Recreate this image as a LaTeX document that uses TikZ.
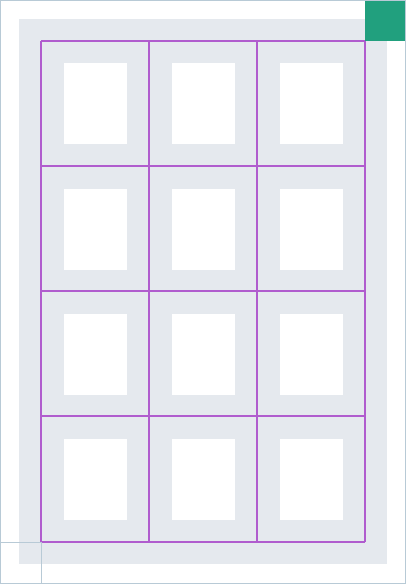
\documentclass[tikz,border=0pt]{standalone}
\usetikzlibrary{calc}
\definecolor{pagegray}{RGB}{229,233,238}
\definecolor{gridpurple}{RGB}{176,92,206}
\definecolor{tealgreen}{RGB}{33,160,126}
\definecolor{edgeblue}{RGB}{184,202,214}
\begin{document}
\begin{tikzpicture}[x=1pt,y=-1pt,
  sheet/.style={fill=pagegray,draw=none},
  slot/.style={fill=white,draw=none},
  gridline/.style={draw=gridpurple,line width=1.3pt},
  edge/.style={draw=edgeblue,line width=1pt},
  corner/.style={fill=tealgreen,draw=none}]
\useasboundingbox (0,0) rectangle (406,584);
\fill[white] (0,0) rectangle (406,584);
% gray sheet
\path[sheet] (19,19) rectangle (387,564);
% white slots
\foreach \c in {0,1,2} {
  \foreach \r/\cy in {0/103.5,1/229,2/354,3/479.5} {
    \pgfmathsetmacro{\cx}{95+108*\c}
    \path[slot] (\cx-31.5,\cy-40.5) rectangle (\cx+31.5,\cy+40.5);
  }
}
% grid
\foreach \x in {41,149,257,365} { \draw[gridline] (\x,41) -- (\x,542); }
\foreach \y in {41,166,291,416,542} { \draw[gridline] (41,\y) -- (365,\y); }
% corner square
\path[corner] (365,0) rectangle (406,41);
% outer border
\draw[edge] (0.5,0.5) rectangle (405.5,583.5);
% bottom-left mark
\draw[edge] (0.5,542) -- (41,542) -- (41,583.5);
\end{tikzpicture}
\end{document}
